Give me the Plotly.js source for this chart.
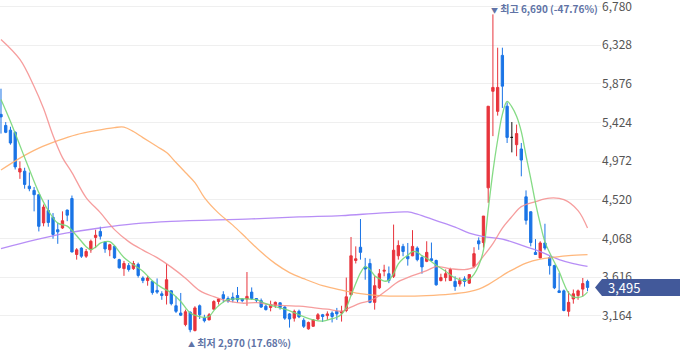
<!DOCTYPE html>
<html><head><meta charset="utf-8">
<script src="https://cdn.plot.ly/plotly-3.0.1.min.js"></script>
<style>html,body{margin:0;padding:0;background:#fff;}#chart{width:680px;height:358px;}</style>
</head><body><div id="chart"></div>
<script>
// ---- candle data (index 0..124) ----
const openV  = [5520,5390,5335,5310,4845,4855,4680,4630,4580,4250,4395,4315,4170,4190,4400,4535,3880,3955,3860,3935,4080,4150,4025,3935,3975,3820,3715,3750,3715,3765,3605,3575,3565,3460,3420,3400,3455,3280,3195,3060,3205,2990,3280,3135,3115,3240,3330,3410,3365,3380,3400,3360,3360,3440,3365,3340,3275,3260,3285,3315,3265,3185,3135,3215,3110,3010,3040,3125,3175,3165,3195,3215,3195,3225,3410,3810,3965,3735,3775,3320,3490,3685,3655,3625,3865,3975,3860,3865,3955,3845,3800,3830,3810,3575,3610,3575,3565,3535,3595,3545,3740,4040,4020,4660,5790,5555,6210,5615,5250,5165,5115,4555,4380,3905,3840,4015,3845,3750,3455,3455,3215,3360,3400,3475,3565];
const highV  = [5820,5430,5375,5320,4970,4895,4840,4670,4585,4465,4520,4365,4250,4385,4405,4570,3955,3965,3945,4055,4170,4205,4035,4005,3985,3830,3805,3780,3805,3785,3625,3630,3575,3600,3450,3770,3460,3390,3430,3235,3215,3275,3295,3175,3195,3345,3370,3450,3390,3435,3500,3370,3675,3495,3370,3365,3295,3340,3330,3320,3275,3195,3235,3235,3135,3095,3125,3195,3185,3215,3215,3255,3280,3610,4085,3975,4295,3840,3830,3625,3710,3760,3740,4230,4045,4005,4015,4165,3975,3860,4035,4020,3820,3655,3705,3725,3625,3610,3625,3645,3965,4080,4330,5615,6690,6300,6300,5660,5430,5400,5185,4630,4385,4060,4035,4240,3860,3760,3665,3470,3450,3470,3470,3605,3585];
const lowV   = [5295,5300,5165,4875,4765,4650,4620,4385,4150,4210,4205,4065,4005,4180,4270,3905,3820,3840,3840,3900,3955,4055,3900,3860,3830,3715,3630,3680,3700,3610,3545,3515,3410,3420,3350,3295,3285,3195,3160,3040,2970,2980,3125,3085,3110,3235,3295,3320,3315,3320,3315,3320,3280,3350,3315,3255,3225,3215,3255,3235,3115,3025,3095,3135,3020,3000,3035,3115,3090,3115,3085,3115,3095,3205,3400,3775,3820,3585,3310,3235,3475,3625,3545,3605,3820,3860,3750,3860,3800,3655,3790,3800,3515,3565,3565,3570,3455,3505,3505,3535,3720,3935,3960,4485,5265,5505,5595,5185,5075,5030,4795,4230,3975,3875,3835,3930,3645,3475,3435,3215,3155,3305,3350,3390,3450];
const closeV = [5490,5310,5185,4905,4885,4700,4650,4580,4210,4435,4255,4115,4145,4275,4340,3910,3935,3860,3915,4035,4105,4095,3945,3995,3840,3725,3775,3705,3775,3635,3575,3605,3435,3440,3400,3585,3305,3215,3170,3210,3000,3255,3175,3105,3175,3330,3360,3365,3335,3350,3350,3340,3390,3365,3345,3265,3235,3295,3320,3260,3135,3125,3215,3150,3040,3085,3115,3175,3155,3185,3155,3185,3215,3385,3865,3830,3905,3710,3320,3515,3655,3695,3575,3930,3985,3915,3830,3975,3820,3735,3905,3810,3525,3610,3655,3705,3505,3575,3565,3645,3890,4005,4330,5615,5835,5835,5850,5250,5250,5295,4985,4280,4020,3880,4015,3955,3750,3490,3435,3225,3320,3420,3455,3540,3495];
const dojiIndex = 108;   // unchanged candle drawn in black

// ---- moving averages ----
const ma5Idx = [0,2,4,6,8,10,12,14,16,18,19,20,21,22,23,24,26,28,30,32,34,36,38,40,42,43,44,45,46,48,50,52,54,56,58,60,62,64,66,68,70,71,72,73,74,75,76,77,78,79,80,81,82,83,84,85,86,87,88,89,90,92,94,96,98,99,100,101,102,103,104,105,106,107,108,109,110,111,112,113,114,115,116,117,118,119,120,121,122,123,124];
const ma5Val = [5693,5436,5155,4874,4604,4394,4247,4212,4100,3972,3937,3966,4013,4031,4031,3984,3845,3761,3685,3574,3492,3433,3330,3195,3152,3145,3155,3223,3281,3351,3362,3360,3351,3305,3269,3240,3199,3152,3115,3100,3129,3146,3182,3260,3400,3540,3665,3738,3703,3632,3597,3568,3580,3656,3770,3831,3872,3915,3907,3867,3837,3755,3685,3605,3575,3591,3648,3750,3930,4400,4850,5220,5520,5672,5608,5498,5318,5035,4768,4485,4240,4028,3900,3790,3680,3540,3430,3382,3378,3392,3440];
const ma20Idx = [0,4,7,9,11,13,15,18,21,24,27,30,33,36,39,42,45,48,51,54,57,60,63,66,69,72,74,76,78,80,82,84,87,90,92,95,98,100,102,104,106,108,110,113,116,119,122,124];
const ma20Val = [6396,6162,5846,5588,5272,5014,4839,4546,4370,4171,4031,3931,3843,3732,3603,3457,3386,3334,3310,3316,3293,3281,3275,3258,3240,3217,3264,3310,3340,3398,3480,3562,3632,3691,3738,3714,3703,3732,3861,4007,4189,4323,4440,4499,4540,4522,4394,4189];
const ma60Idx = [0,4,8,12,16,20,24,26,28,30,33,35,37,39,41,43,46,49,52,55,58,61,64,68,72,76,80,85,90,95,99,101,103,105,107,109,111,114,117,120,124];
const ma60Val = [4868,5008,5125,5213,5284,5330,5365,5371,5319,5248,5143,5073,4956,4839,4721,4546,4364,4224,4066,3908,3773,3668,3597,3515,3463,3422,3398,3392,3398,3416,3445,3474,3527,3597,3668,3726,3779,3826,3849,3867,3878];
const ma120Idx = [0,7,14,21,28,36,53,63,72,80,86,88,92,96,99,102,106,110,114,118,121,124];
const ma120Val = [3949,4048,4132,4191,4238,4268,4296,4320,4335,4364,4378,4353,4276,4200,4130,4089,4060,3990,3913,3820,3773,3741];

// ---- axis ticks ----
const tickVals = [3164,3616,4068,4520,4972,5424,5876,6328,6780];
const tickText = ['3,164','3,616','4,068','4,520','4,972','5,424','5,876','6,328','6,780'];
const highLabel = '최고 6,690 (-47.76%)';
const lowLabel  = '최저 2,970 (17.68%)';

const RED = '#e8343c', BLUE = '#1a74e6';
const idx = closeV.map((_, i) => i);

const mainO = openV.slice(), mainH = highV.slice(), mainL = lowV.slice(), mainC = closeV.slice();
mainO[dojiIndex] = mainH[dojiIndex] = mainL[dojiIndex] = mainC[dojiIndex] = null;

const traces = [
  {type:'candlestick', x:idx, open:mainO, high:mainH, low:mainL, close:mainC,
   increasing:{line:{color:RED,width:1}, fillcolor:RED},
   decreasing:{line:{color:BLUE,width:1}, fillcolor:BLUE},
   whiskerwidth:0, hoverinfo:'skip'},
  {type:'candlestick', x:[dojiIndex], open:[openV[dojiIndex]], high:[highV[dojiIndex]], low:[lowV[dojiIndex]], close:[closeV[dojiIndex]],
   increasing:{line:{color:'#111',width:1}, fillcolor:'#111'},
   decreasing:{line:{color:'#111',width:1}, fillcolor:'#111'},
   whiskerwidth:0, hoverinfo:'skip'},
  {type:'scatter', mode:'lines', x:ma120Idx, y:ma120Val, line:{color:'rgba(175,130,245,0.9)', width:1.3, shape:'spline'}, hoverinfo:'skip'},
  {type:'scatter', mode:'lines', x:ma60Idx, y:ma60Val, line:{color:'rgba(255,175,110,0.9)', width:1.3, shape:'spline'}, hoverinfo:'skip'},
  {type:'scatter', mode:'lines', x:ma20Idx, y:ma20Val, line:{color:'rgba(245,140,140,0.85)', width:1.3, shape:'spline'}, hoverinfo:'skip'},
  {type:'scatter', mode:'lines', x:ma5Idx, y:ma5Val, line:{color:'rgba(120,215,120,0.9)', width:1.3, shape:'spline'}, hoverinfo:'skip'}
];

// layout geometry
const plotW = 601, yMin = 2669, yMax = 6858, H = 358;
const unitPerPx = (yMax - yMin) / H;
const last = closeV[closeV.length - 1];
const px = v => v / plotW;
const hh = 8.5 * unitPerPx;
const flagPath = `M ${px(595)},${last} L ${px(602)},${last+hh} L ${px(680)},${last+hh} L ${px(680)},${last-hh} L ${px(602)},${last-hh} Z`;

let hiI = 0, loI = 0;
highV.forEach((v,i)=>{ if(v>highV[hiI]) hiI=i; });
lowV.forEach((v,i)=>{ if(v<lowV[loI]) loI=i; });

const annColor = 'rgb(96,115,166)';
const fontKR = '"Noto Sans CJK KR", "Noto Sans", sans-serif';

const layout = {
  width:680, height:358,
  margin:{l:0, r:79, t:0, b:0},
  paper_bgcolor:'#ffffff', plot_bgcolor:'#ffffff',
  showlegend:false,
  dragmode:false,
  xaxis:{range:[-0.21,126.85], visible:false, showgrid:false, zeroline:false, rangeslider:{visible:false}, fixedrange:true},
  yaxis:{side:'right', range:[yMin,yMax], tickmode:'array', tickvals:tickVals, ticktext:tickText,
         showgrid:true, gridcolor:'#efefef', gridwidth:1, zeroline:false, showline:false, ticks:'',
         ticklabeloverflow:'allow',
         tickfont:{family:fontKR, size:12, color:'#555'}, fixedrange:true},
  shapes:[
    {type:'path', xref:'paper', yref:'y', path:flagPath, fillcolor:'#42599a', line:{width:0}, layer:'above'}
  ],
  annotations:[
    {xref:'paper', yref:'y', x:px(606), y:last, xanchor:'left', yanchor:'middle', showarrow:false,
     text:'3,495', font:{family:fontKR, size:13, color:'#ffffff'}},
    {xref:'x', yref:'y', x:hiI, y:highV[hiI], xanchor:'left', yanchor:'middle', xshift:-4, yshift:6, showarrow:false,
     text:'<span style="font-size:7px">▼</span> '+highLabel, font:{family:fontKR, size:10, color:annColor, weight:'bold'}},
    {xref:'x', yref:'y', x:loI, y:lowV[loI], xanchor:'left', yanchor:'middle', xshift:-4, yshift:-10, showarrow:false,
     text:'<span style="font-size:7px">▲</span> '+lowLabel, font:{family:fontKR, size:10, color:annColor, weight:'bold'}}
  ]
};

Plotly.newPlot('chart', traces, layout, {displayModeBar:false, staticPlot:true});
</script></body></html>
